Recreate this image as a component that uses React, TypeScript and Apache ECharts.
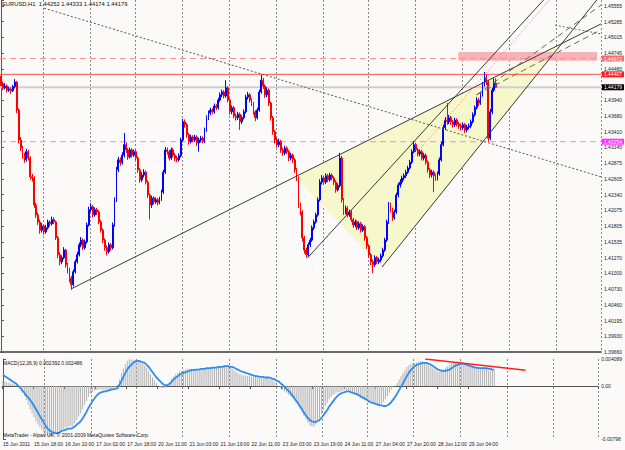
import React, { useEffect, useRef } from 'react';
import * as echarts from 'echarts';

const TITLE = 'EURUSD,H1  1.44252 1.44333 1.44174 1.44179';
const MACD_TITLE = 'MACD(12,26,9) 0.002392 0.002486';
const COPYRIGHT = 'MetaTrader - Alpari UK, \u00a9 2001-2009 MetaQuotes Software Corp.';

const FIRST_OPEN = 1.4434;
const CLOSE = [
  1.4424,1.4417,1.4420,1.4413,1.4415,1.4412,1.4419,1.4427,1.4379,1.4328,
  1.4314,1.4302,1.4294,1.4308,1.4297,1.4265,1.4263,1.4217,1.4200,1.4188,
  1.4174,1.4181,1.4171,1.4178,1.4188,1.4185,1.4192,1.4188,1.4161,1.4132,
  1.4120,1.4127,1.4140,1.4115,1.4106,1.4092,1.4081,1.4103,1.4120,1.4132,
  1.4149,1.4157,1.4144,1.4154,1.4183,1.4209,1.4214,1.4200,1.4209,1.4205,
  1.4188,1.4174,1.4157,1.4144,1.4137,1.4149,1.4144,1.4183,1.4226,1.4277,
  1.4294,1.4289,1.4302,1.4320,1.4311,1.4299,1.4311,1.4302,1.4308,1.4297,
  1.4277,1.4260,1.4268,1.4273,1.4256,1.4234,1.4217,1.4229,1.4222,1.4226,
  1.4221,1.4227,1.4239,1.4273,1.4311,1.4308,1.4297,1.4311,1.4302,1.4297,
  1.4294,1.4301,1.4328,1.4359,1.4354,1.4337,1.4325,1.4333,1.4328,1.4333,
  1.4323,1.4328,1.4331,1.4326,1.4345,1.4366,1.4374,1.4379,1.4376,1.4386,
  1.4383,1.4396,1.4405,1.4410,1.4403,1.4417,1.4396,1.4376,1.4383,1.4369,
  1.4366,1.4372,1.4359,1.4366,1.4376,1.4401,1.4405,1.4396,1.4390,1.4376,
  1.4366,1.4379,1.4410,1.4430,1.4420,1.4405,1.4413,1.4391,1.4366,1.4342,
  1.4328,1.4320,1.4325,1.4311,1.4306,1.4314,1.4308,1.4297,1.4302,1.4294,
  1.4277,1.4263,1.4217,1.4205,1.4161,1.4140,1.4132,1.4149,1.4157,1.4178,
  1.4188,1.4200,1.4226,1.4256,1.4263,1.4256,1.4267,1.4260,1.4268,1.4263,
  1.4256,1.4243,1.4250,1.4297,1.4226,1.4205,1.4212,1.4200,1.4205,1.4192,
  1.4183,1.4188,1.4178,1.4185,1.4174,1.4180,1.4161,1.4147,1.4132,1.4120,
  1.4115,1.4127,1.4120,1.4123,1.4130,1.4140,1.4157,1.4188,1.4217,1.4209,
  1.4195,1.4205,1.4234,1.4251,1.4256,1.4263,1.4267,1.4273,1.4280,1.4290,
  1.4308,1.4320,1.4311,1.4304,1.4308,1.4297,1.4302,1.4290,1.4277,1.4268,
  1.4273,1.4267,1.4263,1.4270,1.4294,1.4320,1.4349,1.4362,1.4359,1.4366,
  1.4359,1.4354,1.4362,1.4355,1.4352,1.4349,1.4354,1.4345,1.4350,1.4352,
  1.4359,1.4371,1.4383,1.4396,1.4391,1.4405,1.4422,1.4434,1.4427,1.4331,
  1.4376,1.4413,1.4425,1.4418
];
const HIGH = [
  1.4437,1.4428,1.4425,1.4423,1.4419,1.4418,1.4422,1.4432,1.4429,1.4382,
  1.4333,1.4318,1.4306,1.4313,1.4311,1.4300,1.4270,1.4266,1.4221,1.4204,
  1.4192,1.4186,1.4184,1.4183,1.4192,1.4191,1.4197,1.4196,1.4190,1.4164,
  1.4136,1.4131,1.4145,1.4142,1.4118,1.4110,1.4096,1.4107,1.4124,1.4137,
  1.4153,1.4162,1.4160,1.4158,1.4187,1.4214,1.4220,1.4217,1.4213,1.4212,
  1.4208,1.4191,1.4177,1.4160,1.4148,1.4153,1.4152,1.4187,1.4230,1.4282,
  1.4299,1.4298,1.4307,1.4340,1.4324,1.4314,1.4315,1.4314,1.4312,1.4311,
  1.4300,1.4280,1.4273,1.4278,1.4276,1.4259,1.4237,1.4233,1.4232,1.4230,
  1.4229,1.4231,1.4243,1.4277,1.4316,1.4315,1.4311,1.4315,1.4314,1.4306,
  1.4301,1.4305,1.4332,1.4364,1.4363,1.4357,1.4340,1.4337,1.4336,1.4337,
  1.4336,1.4332,1.4335,1.4334,1.4349,1.4370,1.4378,1.4383,1.4382,1.4390,
  1.4389,1.4400,1.4409,1.4414,1.4413,1.4430,1.4420,1.4399,1.4387,1.4386,
  1.4373,1.4376,1.4375,1.4370,1.4380,1.4405,1.4410,1.4408,1.4399,1.4393,
  1.4379,1.4383,1.4414,1.4439,1.4434,1.4423,1.4418,1.4416,1.4394,1.4369,
  1.4345,1.4332,1.4330,1.4328,1.4315,1.4318,1.4317,1.4311,1.4306,1.4305,
  1.4297,1.4280,1.4266,1.4221,1.4208,1.4164,1.4144,1.4153,1.4161,1.4182,
  1.4192,1.4204,1.4230,1.4261,1.4268,1.4267,1.4271,1.4270,1.4272,1.4271,
  1.4266,1.4259,1.4254,1.4306,1.4301,1.4229,1.4216,1.4215,1.4209,1.4208,
  1.4195,1.4192,1.4191,1.4189,1.4188,1.4184,1.4183,1.4164,1.4150,1.4135,
  1.4124,1.4131,1.4130,1.4127,1.4134,1.4144,1.4161,1.4192,1.4222,1.4221,
  1.4212,1.4209,1.4238,1.4255,1.4261,1.4267,1.4271,1.4277,1.4284,1.4294,
  1.4312,1.4326,1.4323,1.4314,1.4312,1.4311,1.4306,1.4305,1.4293,1.4280,
  1.4277,1.4276,1.4270,1.4274,1.4298,1.4325,1.4354,1.4367,1.4391,1.4371,
  1.4369,1.4362,1.4366,1.4365,1.4359,1.4356,1.4358,1.4357,1.4354,1.4356,
  1.4363,1.4375,1.4387,1.4401,1.4400,1.4410,1.4427,1.4444,1.4440,1.4430,
  1.4381,1.4417,1.4433,1.4433
];
const LOW = [
  1.4420,1.4413,1.4414,1.4409,1.4410,1.4407,1.4410,1.4416,1.4374,1.4322,
  1.4309,1.4296,1.4289,1.4291,1.4293,1.4260,1.4257,1.4212,1.4195,1.4183,
  1.4168,1.4170,1.4166,1.4168,1.4175,1.4180,1.4182,1.4184,1.4157,1.4126,
  1.4114,1.4116,1.4124,1.4110,1.4100,1.4085,1.4072,1.4078,1.4100,1.4117,
  1.4129,1.4145,1.4140,1.4141,1.4151,1.4180,1.4205,1.4196,1.4197,1.4200,
  1.4184,1.4170,1.4152,1.4139,1.4131,1.4134,1.4139,1.4141,1.4180,1.4222,
  1.4273,1.4284,1.4286,1.4298,1.4306,1.4294,1.4296,1.4298,1.4299,1.4293,
  1.4272,1.4255,1.4256,1.4264,1.4252,1.4229,1.4192,1.4212,1.4218,1.4219,
  1.4216,1.4218,1.4224,1.4236,1.4270,1.4303,1.4293,1.4294,1.4298,1.4292,
  1.4290,1.4291,1.4298,1.4325,1.4349,1.4332,1.4320,1.4322,1.4324,1.4325,
  1.4318,1.4308,1.4324,1.4322,1.4323,1.4342,1.4362,1.4370,1.4372,1.4373,
  1.4379,1.4380,1.4393,1.4401,1.4399,1.4400,1.4392,1.4371,1.4372,1.4365,
  1.4361,1.4362,1.4345,1.4355,1.4363,1.4373,1.4397,1.4392,1.4386,1.4371,
  1.4360,1.4363,1.4376,1.4407,1.4415,1.4400,1.4401,1.4386,1.4361,1.4337,
  1.4322,1.4315,1.4316,1.4306,1.4301,1.4302,1.4304,1.4292,1.4293,1.4289,
  1.4272,1.4258,1.4212,1.4199,1.4155,1.4134,1.4127,1.4128,1.4145,1.4154,
  1.4174,1.4185,1.4197,1.4223,1.4252,1.4251,1.4253,1.4256,1.4257,1.4259,
  1.4251,1.4238,1.4240,1.4247,1.4221,1.4200,1.4201,1.4196,1.4197,1.4188,
  1.4178,1.4179,1.4174,1.4175,1.4170,1.4171,1.4156,1.4142,1.4127,1.4114,
  1.4101,1.4111,1.4116,1.4116,1.4119,1.4127,1.4137,1.4154,1.4185,1.4204,
  1.4190,1.4192,1.4202,1.4230,1.4247,1.4252,1.4259,1.4263,1.4270,1.4277,
  1.4287,1.4305,1.4307,1.4300,1.4300,1.4293,1.4293,1.4286,1.4272,1.4263,
  1.4264,1.4239,1.4258,1.4259,1.4267,1.4291,1.4317,1.4345,1.4354,1.4355,
  1.4354,1.4349,1.4350,1.4351,1.4347,1.4344,1.4345,1.4340,1.4341,1.4346,
  1.4348,1.4356,1.4368,1.4380,1.4386,1.4388,1.4402,1.4419,1.4422,1.4325,
  1.4328,1.4372,1.4410,1.4417
];

const MACD_MAIN = [
  0.0008,0.0007,0.0006,0.0005,0.0004,0.0003,0.0002,0.0001,-0.0001,-0.0004,
  -0.0010,-0.0015,-0.0021,-0.0028,-0.0035,-0.0041,-0.0047,-0.0053,-0.0058,-0.0062,
  -0.0066,-0.0070,-0.0073,-0.0075,-0.0076,-0.0076,-0.0075,-0.0073,-0.0071,-0.0069,
  -0.0067,-0.0065,-0.0063,-0.0062,-0.0061,-0.0060,-0.0060,-0.0056,-0.0051,-0.0046,
  -0.0041,-0.0035,-0.0028,-0.0022,-0.0016,-0.0012,-0.0009,-0.0007,-0.0006,-0.0005,
  -0.0005,-0.0005,-0.0005,-0.0006,-0.0006,-0.0006,-0.0005,-0.0004,-0.0002,0.0002,
  0.0010,0.0020,0.0027,0.0033,0.0038,0.0040,0.0040,0.0040,0.0039,0.0038,
  0.0037,0.0036,0.0034,0.0031,0.0027,0.0023,0.0018,0.0013,0.0009,0.0005,
  0.0001,-0.0002,-0.0003,-0.0003,-0.0002,0.0000,0.0006,0.0012,0.0015,0.0018,
  0.0020,0.0022,0.0023,0.0024,0.0025,0.0026,0.0026,0.0026,0.0025,0.0025,
  0.0025,0.0025,0.0025,0.0026,0.0026,0.0027,0.0027,0.0028,0.0028,0.0028,
  0.0028,0.0029,0.0029,0.0030,0.0030,0.0030,0.0029,0.0028,0.0026,0.0024,
  0.0022,0.0020,0.0018,0.0017,0.0016,0.0016,0.0015,0.0015,0.0014,0.0014,
  0.0014,0.0013,0.0013,0.0013,0.0013,0.0012,0.0012,0.0011,0.0010,0.0009,
  0.0006,0.0003,0.0000,-0.0003,-0.0006,-0.0008,-0.0010,-0.0013,-0.0015,-0.0018,
  -0.0022,-0.0026,-0.0030,-0.0034,-0.0040,-0.0045,-0.0050,-0.0055,-0.0059,-0.0061,
  -0.0061,-0.0058,-0.0054,-0.0048,-0.0042,-0.0036,-0.0030,-0.0025,-0.0020,-0.0016,
  -0.0013,-0.0011,-0.0010,-0.0009,-0.0008,-0.0007,-0.0006,-0.0007,-0.0008,-0.0010,
  -0.0011,-0.0012,-0.0014,-0.0016,-0.0018,-0.0020,-0.0021,-0.0022,-0.0023,-0.0024,
  -0.0025,-0.0026,-0.0027,-0.0028,-0.0028,-0.0027,-0.0024,-0.0020,-0.0015,-0.0010,
  -0.0005,-0.0002,0.0000,0.0005,0.0010,0.0015,0.0020,0.0024,0.0029,0.0031,
  0.0033,0.0034,0.0035,0.0036,0.0037,0.0037,0.0037,0.0036,0.0034,0.0032,
  0.0030,0.0028,0.0026,0.0024,0.0022,0.0022,0.0023,0.0025,0.0028,0.0030,
  0.0032,0.0034,0.0035,0.0036,0.0037,0.0037,0.0036,0.0034,0.0032,0.0030,
  0.0030,0.0029,0.0028,0.0027,0.0027,0.0026,0.0027,0.0028,0.0029,0.0026,
  0.0023,0.0023,0.0024,0.0024
];
const MACD_SIGNAL = [
  0.0017,0.0015,0.0013,0.0011,0.0009,0.0007,0.0005,0.0003,0.0000,-0.0003,
  -0.0007,-0.0010,-0.0014,-0.0017,-0.0021,-0.0025,-0.0030,-0.0035,-0.0040,-0.0045,
  -0.0050,-0.0055,-0.0060,-0.0064,-0.0067,-0.0069,-0.0070,-0.0071,-0.0071,-0.0070,
  -0.0068,-0.0067,-0.0066,-0.0065,-0.0064,-0.0064,-0.0063,-0.0061,-0.0058,-0.0056,
  -0.0053,-0.0049,-0.0044,-0.0039,-0.0033,-0.0028,-0.0023,-0.0019,-0.0015,-0.0012,
  -0.0010,-0.0009,-0.0008,-0.0008,-0.0007,-0.0006,-0.0005,-0.0005,-0.0004,-0.0003,
  0.0002,0.0008,0.0014,0.0020,0.0025,0.0029,0.0032,0.0035,0.0037,0.0038,
  0.0038,0.0037,0.0036,0.0035,0.0032,0.0029,0.0025,0.0021,0.0017,0.0013,
  0.0010,0.0007,0.0004,0.0002,0.0001,0.0002,0.0004,0.0007,0.0010,0.0013,
  0.0015,0.0017,0.0019,0.0020,0.0021,0.0022,0.0023,0.0024,0.0024,0.0025,
  0.0025,0.0025,0.0026,0.0026,0.0026,0.0027,0.0027,0.0027,0.0028,0.0028,
  0.0028,0.0029,0.0029,0.0029,0.0030,0.0030,0.0030,0.0029,0.0029,0.0028,
  0.0026,0.0025,0.0023,0.0022,0.0021,0.0020,0.0019,0.0018,0.0017,0.0016,
  0.0015,0.0015,0.0014,0.0014,0.0014,0.0013,0.0013,0.0013,0.0012,0.0011,
  0.0010,0.0008,0.0007,0.0004,0.0002,-0.0001,-0.0004,-0.0007,-0.0010,-0.0014,
  -0.0018,-0.0022,-0.0026,-0.0031,-0.0035,-0.0040,-0.0044,-0.0048,-0.0051,-0.0053,
  -0.0054,-0.0054,-0.0053,-0.0051,-0.0048,-0.0044,-0.0040,-0.0036,-0.0031,-0.0027,
  -0.0023,-0.0019,-0.0016,-0.0013,-0.0011,-0.0010,-0.0009,-0.0008,-0.0008,-0.0009,
  -0.0010,-0.0011,-0.0012,-0.0013,-0.0015,-0.0017,-0.0018,-0.0020,-0.0022,-0.0024,
  -0.0025,-0.0026,-0.0027,-0.0028,-0.0029,-0.0029,-0.0030,-0.0030,-0.0029,-0.0027,
  -0.0024,-0.0020,-0.0016,-0.0011,-0.0006,-0.0001,0.0004,0.0010,0.0015,0.0020,
  0.0024,0.0027,0.0030,0.0032,0.0033,0.0034,0.0035,0.0035,0.0035,0.0034,
  0.0033,0.0031,0.0029,0.0027,0.0025,0.0024,0.0023,0.0023,0.0023,0.0024,
  0.0025,0.0027,0.0029,0.0031,0.0032,0.0033,0.0034,0.0034,0.0033,0.0032,
  0.0031,0.0030,0.0029,0.0028,0.0028,0.0027,0.0027,0.0027,0.0027,0.0027,
  0.0026,0.0026,0.0025,0.0025
];

// price scale (right axis) labels, bottom to top
const Y_TICK_LABELS = [
  '1.39660','1.39930','1.40195','1.40460','1.40730','1.41000','1.41270','1.41535',
  '1.41805','1.42075','1.42340','1.42605','1.42875','1.43145','1.43410','1.43680',
  '1.43940','1.44210','1.44480','1.44745','1.45015','1.45285','1.45555'
];
const Y_MIN = 1.3966;
const Y_STEP = 0.00268577;
const Y_MAX = 1.45669;

const MACD_MIN = -0.00798;
const MACD_MAX = 0.004089;
const MACD_TICK_LABELS = [
  { v: -0.00798, t: '-0.00798' },
  { v: 0, t: '0.00' },
  { v: 0.004089, t: '0.004089' }
];

// chart timeline: first bar, number of slots on screen, label every n bars
const FIRST_BAR = Date.UTC(2011, 5, 15, 2);
const SLOT_COUNT = 307;
const LABEL_EVERY = 16;
const MONTHS = ['Jan','Feb','Mar','Apr','May','Jun','Jul','Aug','Sep','Oct','Nov','Dec'];

// horizontal objects
const H_LINES = [
  { price: 1.4467, text: '1.44672', color: '#ff9090', type: [6, 4], width: 1, box: '#f26d6d' },
  { price: 1.4440, text: '1.44407', color: '#ff5050', type: 'solid', width: 1, box: '#ff1c1c' },
  { price: 1.44179, text: '1.44179', color: '#cfcfcf', type: 'solid', width: 2, box: '#000000' },
  { price: 1.4325, text: '1.43254', color: '#f08af0', type: [6, 4], width: 1, box: '#ff33ff' }
];
// a scale label that sits under an object's price box is covered by it
const BOX_COVER = 0.0006;

// trend lines in [bar index, price]
const TRENDLINES = [
  { a: [22, 1.4553], b: [306.5, 1.4265], color: '#555555', type: [2, 2], width: 1 },
  { a: [36, 1.4074], b: [306.5, 1.4526], color: '#3a3a3a', type: 'solid', width: 1 },
  { a: [194.7, 1.4111], b: [304.4, 1.4567], color: '#3a3a3a', type: 'solid', width: 1 },
  { a: [156.7, 1.4127], b: [277.2, 1.4567], color: '#3a3a3a', type: 'solid', width: 1 },
  { a: [210.7, 1.4299], b: [280.2, 1.4567], color: '#ff6a6a', type: [1, 2], width: 1 },
  { a: [243, 1.4405], b: [306.5, 1.4558], color: '#666666', type: [6, 4], width: 1 },
  { a: [243, 1.4405], b: [306.5, 1.4516], color: '#666666', type: [6, 4], width: 1 },
  { a: [283, 1.4524], b: [306.5, 1.4509], color: '#666666', type: [2, 2], width: 1 }
];
const TRIANGLE = [[150.1, 1.4265], [194.7, 1.4111], [286.3, 1.4492]];
const ZONE = { x1: 233.6, x2: 304.5, top: 1.4478, bottom: 1.4463 };
const MACD_TREND = [[217.4, 0.0041], [269.1, 0.0024]];

const FONT = '"Liberation Sans", Arial, sans-serif';
const FS = 5;
const TITLE_FS = 5.8;

function buildTimes(): Date[] {
  const out: Date[] = [];
  let t = FIRST_BAR;
  while (out.length < SLOT_COUNT) {
    const d = new Date(t);
    const wd = d.getUTCDay();
    const h = d.getUTCHours();
    const closed = wd === 6 || wd === 0 || (wd === 5 && h === 23);
    if (!closed) out.push(d);
    t += 3600000;
  }
  return out;
}

function pad(n: number) {
  return n < 10 ? '0' + n : '' + n;
}

export default function App() {
  const ref = useRef<HTMLDivElement>(null);
  useEffect(() => {
    if (!ref.current) return;
    const chart = echarts.init(ref.current, null, { renderer: 'svg' });
    const times = buildTimes();
    const cats = times.map((d, i) =>
      i === 0
        ? `${d.getUTCDate()} ${MONTHS[d.getUTCMonth()]} ${d.getUTCFullYear()}`
        : `${d.getUTCDate()} ${MONTHS[d.getUTCMonth()]} ${pad(d.getUTCHours())}:00`
    );
    const isDayStart = (i: number) => i > 0 && !!times[i] && times[i].getUTCHours() === 0;
    const isLabel = (i: number) => i % LABEL_EVERY === 0 && i < CLOSE.length;
    const xEnd = SLOT_COUNT - 0.51;

    const candles = CLOSE.map((c, i) => [i === 0 ? FIRST_OPEN : CLOSE[i - 1], c, LOW[i], HIGH[i]]);

    const option: any = {
      animation: false,
      backgroundColor: '#fcf9f9',
      grid: [
        { left: 0, right: 19, top: 0, height: 352 },
        { left: 0, right: 19, top: 359, height: 80 }
      ],
      xAxis: [
        {
          type: 'category', gridIndex: 0, data: cats, boundaryGap: true,
          axisLine: { show: true, lineStyle: { color: '#6a6a6a', width: 2 } },
          axisTick: { show: false }, axisLabel: { show: false },
          splitLine: { show: true, interval: (i: number) => isDayStart(i), lineStyle: { color: '#8a8a8a', type: [2, 2], width: 1 } }
        },
        { type: 'value', gridIndex: 0, min: -0.5, max: SLOT_COUNT - 0.5, show: false },
        {
          type: 'category', gridIndex: 1, data: cats, boundaryGap: true,
          axisLine: { show: true, lineStyle: { color: '#555555', width: 1 } },
          axisTick: { show: true, interval: (i: number) => isLabel(i), length: 3, lineStyle: { color: '#555555' } },
          axisLabel: {
            show: true, interval: (i: number) => isLabel(i), align: 'left', margin: 2,
            fontFamily: FONT, fontSize: FS, color: '#202020'
          },
          splitLine: { show: true, interval: (i: number) => isDayStart(i), lineStyle: { color: '#8a8a8a', type: [2, 2], width: 1 } }
        },
        { type: 'value', gridIndex: 1, min: -0.5, max: SLOT_COUNT - 0.5, show: false }
      ],
      yAxis: [
        {
          type: 'value', gridIndex: 0, position: 'right', min: Y_MIN, max: Y_MAX, interval: Y_STEP,
          axisLine: { show: true, lineStyle: { color: '#555555' } },
          axisTick: { show: true, length: 3, lineStyle: { color: '#555555' } },
          splitLine: { show: false },
          axisLabel: {
            margin: 3, fontFamily: FONT, fontSize: FS, color: '#202020',
            formatter: (v: number) => {
              const k = Math.round((v - Y_MIN) / Y_STEP);
              if (k < 0 || k >= Y_TICK_LABELS.length) return '';
              if (Math.abs(v - (Y_MIN + k * Y_STEP)) > Y_STEP / 10) return '';
              if (H_LINES.some((h) => Math.abs(h.price - v) < BOX_COVER)) return '';
              return Y_TICK_LABELS[k];
            }
          }
        },
        {
          type: 'value', gridIndex: 1, position: 'right', min: MACD_MIN, max: MACD_MAX, interval: -MACD_MIN,
          axisLine: { show: true, lineStyle: { color: '#555555' } },
          axisTick: { show: true, length: 3, lineStyle: { color: '#555555' } },
          splitLine: { show: false },
          axisLabel: {
            margin: 3, fontFamily: FONT, fontSize: FS, color: '#202020', showMinLabel: true, showMaxLabel: true,
            formatter: (v: number) => {
              const m = MACD_TICK_LABELS.find((t) => Math.abs(t.v - v) < 1e-6);
              return m ? m.t : '';
            }
          }
        }
      ],
      graphic: [
        { type: 'text', left: 2, top: 1, z: 100, style: { text: TITLE, font: `${TITLE_FS}px ${FONT}`, fill: '#101010' } },
        { type: 'text', left: 3, top: 360, z: 100, style: { text: MACD_TITLE, font: `${FS}px ${FONT}`, fill: '#101010' } },
        { type: 'text', left: 3, top: 432, z: 100, style: { text: COPYRIGHT, font: `${FS}px ${FONT}`, fill: '#101010' } }
      ],
      series: [
        {
          type: 'custom', name: 'wedge', xAxisIndex: 1, yAxisIndex: 0, z: 1, silent: true,
          data: [[0, 0]],
          renderItem: (_p: any, api: any) => ({
            type: 'polygon',
            shape: { points: TRIANGLE.map((pt) => api.coord(pt)) },
            style: { fill: '#f7f7cc', stroke: 'none' }
          })
        },
        {
          type: 'custom', name: 'zone', xAxisIndex: 1, yAxisIndex: 0, z: 1, silent: true,
          data: [[0, 0]],
          renderItem: (_p: any, api: any) => ({
            type: 'polygon',
            shape: {
              points: [
                api.coord([ZONE.x1, ZONE.top]), api.coord([ZONE.x2, ZONE.top]),
                api.coord([ZONE.x2, ZONE.bottom]), api.coord([ZONE.x1, ZONE.bottom])
              ]
            },
            style: { fill: '#f6b4b8', stroke: 'none' }
          })
        },
        ...H_LINES.map((h, k) => ({
          type: 'line', name: 'level' + k, xAxisIndex: 1, yAxisIndex: 0, z: 2, silent: true,
          showSymbol: false, symbol: 'none', clip: false,
          data: [[-0.5, h.price], [xEnd, h.price]],
          lineStyle: { color: h.color, type: h.type, width: h.width },
          endLabel: {
            show: true, distance: 1, formatter: h.text,
            backgroundColor: h.box, color: '#ffffff', fontFamily: FONT, fontSize: FS, padding: [1, 2, 0, 2]
          }
        })),
        {
          type: 'candlestick', name: 'EURUSD', xAxisIndex: 0, yAxisIndex: 0, z: 3,
          barWidth: 1.4,
          data: candles,
          itemStyle: { color: '#0000ff', color0: '#ff0000', borderColor: '#0000ff', borderColor0: '#ff0000', borderWidth: 1 }
        },
        ...TRENDLINES.map((t, k) => ({
          type: 'line', name: 'trend' + k, xAxisIndex: 1, yAxisIndex: 0, z: 4, silent: true,
          showSymbol: false, symbol: 'none', clip: true,
          data: [t.a, t.b],
          lineStyle: { color: t.color, type: t.type, width: t.width }
        })),
        {
          type: 'bar', name: 'MACD', xAxisIndex: 2, yAxisIndex: 1, barWidth: 1, z: 2,
          data: MACD_MAIN, itemStyle: { color: '#b2b2b2' }
        },
        {
          type: 'line', name: 'Signal', xAxisIndex: 2, yAxisIndex: 1, z: 3,
          showSymbol: false, symbol: 'none', data: MACD_SIGNAL,
          lineStyle: { color: '#2d8df0', width: 1.8 }
        },
        {
          type: 'line', name: 'macdTrend', xAxisIndex: 3, yAxisIndex: 1, z: 4,
          showSymbol: false, symbol: 'none', data: MACD_TREND,
          lineStyle: { color: '#ff2020', width: 1.5 }
        }
      ]
    };
    chart.setOption(option);
    return () => chart.dispose();
  }, []);
  return <div ref={ref} style={{ position: 'absolute', left: 0, top: 0, width: 625, height: 450 }} />;
}
